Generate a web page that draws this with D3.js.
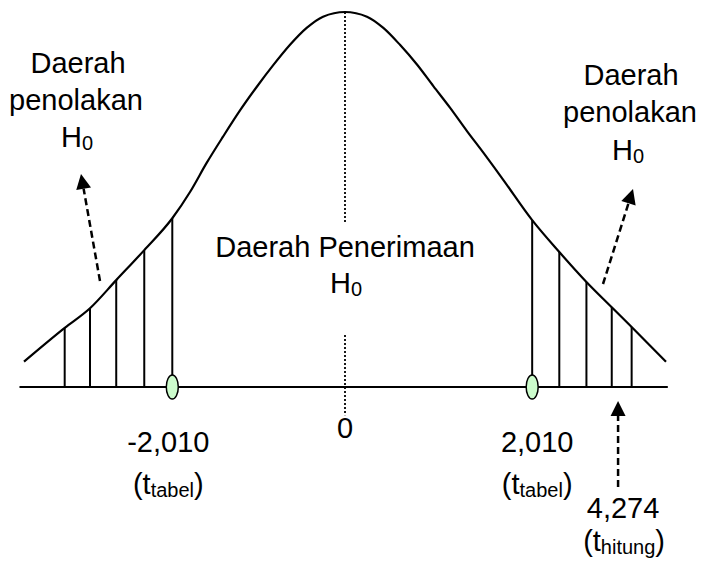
<!DOCTYPE html>
<html>
<head>
<meta charset="utf-8">
<script src="https://cdn.jsdelivr.net/npm/d3@7"></script>
<style>
  body { margin: 0; background: #fff; }
  text { font-family: "Liberation Sans", Arial, sans-serif; fill: #000; }
</style>
</head>
<body>
<svg id="mainSvg" width="702" height="561"></svg>
<script>
// curve (t units, height units)
var curveT = [-3.55,-3.10,-2.82,-2.53,-2.22,-1.91,-1.714,-1.53,-1.349,-1.161,-0.977,-0.796,-0.608,-0.424,-0.243,0,
              0.243,0.424,0.608,0.796,0.977,1.161,1.349,1.53,1.75,2.07,2.37,2.67,2.95,3.17,3.55];
var curveY = [0.027,0.063,0.084,0.114,0.146,0.180,0.208,0.239,0.267,0.295,0.320,0.343,0.365,0.383,0.395,0.400,
              0.395,0.383,0.365,0.344,0.321,0.298,0.273,0.250,0.221,0.178,0.144,0.112,0.085,0.064,0.027];

// hatching in the two rejection regions
var hatchLeft = [-3.10,-2.82,-2.53,-2.22,-1.91];
var hatchRight = [2.07,2.37,2.67,2.95,3.17];

// critical values (markers) and their labels
var critT = [-1.91, 2.07];
var critLabels = ["-2,010", "2,010"];
var hitungT = 3.02;
var hitungLabel = "4,274";

var axisExtent = [-3.6, 3.57];
var centerDots = [[0.400, 0.176], [0.0555, -0.030]];

var svg = d3.select("#mainSvg");
var x = d3.scaleLinear().domain([-3.55, 3.55]).range([24, 666]);
var y = d3.scaleLinear().domain([0, 0.4]).range([387, 12]);

var pts = curveT.map(function (t, i) { return {t: t, h: curveY[i]}; });
function heightAt(t) { return curveY[curveT.indexOf(t)]; }

//axis line
svg.append("line")
    .attr("x1", x(axisExtent[0])).attr("x2", x(axisExtent[1]))
    .attr("y1", y(0)).attr("y2", y(0))
    .style("stroke", "#000").style("stroke-width", 2.2);

//hatch lines, baseline up to the curve
svg.selectAll(".hatch").data(hatchLeft.concat(hatchRight)).enter().append("line")
    .attr("class", "hatch")
    .attr("x1", function (d) { return x(d); }).attr("x2", function (d) { return x(d); })
    .attr("y1", y(0)).attr("y2", function (d) { return y(heightAt(d)); })
    .style("stroke", "#000").style("stroke-width", 2);

//center dotted line
svg.selectAll(".dots").data(centerDots).enter().append("line")
    .attr("class", "dots")
    .attr("x1", x(0)).attr("x2", x(0))
    .attr("y1", function (d) { return y(d[0]); }).attr("y2", function (d) { return y(d[1]); })
    .style("stroke", "#000").style("stroke-width", 1.8).style("stroke-dasharray", "2,2");

//bell curve
var line = d3.line().x(function (d) { return x(d.t); }).y(function (d) { return y(d.h); })
    .curve(d3.curveMonotoneX);
svg.append("path").datum(pts).attr("d", line)
    .style("fill", "none").style("stroke", "#000").style("stroke-width", 2.2);

//markers at the critical values
svg.selectAll(".crit").data(critT).enter().append("ellipse")
    .attr("class", "crit")
    .attr("cx", function (d) { return x(d); }).attr("cy", y(0))
    .attr("rx", 6).attr("ry", 12)
    .style("fill", "#ccfccc").style("stroke", "#000").style("stroke-width", 1.5);

//dashed arrows with a filled head
function arrow(x1, y1, x2, y2) {
    var a = Math.atan2(y2 - y1, x2 - x1), len = 15, w = 7.5;
    var bx = x2 - len * Math.cos(a), by = y2 - len * Math.sin(a);
    svg.append("line").attr("x1", x1).attr("y1", y1).attr("x2", bx).attr("y2", by)
        .style("stroke", "#000").style("stroke-width", 2.5).style("stroke-dasharray", "7,4");
    var px = -Math.sin(a) * w, py = Math.cos(a) * w;
    svg.append("path")
        .attr("d", "M" + x2 + "," + y2 + "L" + (bx + px) + "," + (by + py) + "L" + (bx - px) + "," + (by - py) + "Z")
        .style("fill", "#000");
}
arrow(100, 281, 81, 174);
arrow(603, 284, 633, 189);
arrow(x(hitungT), 487, x(hitungT), 401);

//text with an optional subscript
function label(cx, by, main, sub, tail) {
    var t = svg.append("text").attr("x", cx).attr("y", by)
        .attr("text-anchor", "middle").style("font-size", "29px");
    t.append("tspan").text(main);
    if (sub) {
        t.append("tspan").text(sub).style("font-size", "20px").attr("dy", 3);
        if (tail) t.append("tspan").text(tail).attr("dy", -3);
    }
}
label(78, 73, "Daerah");
label(76, 110, "penolakan");
label(77, 147, "H", "0");
label(631, 85, "Daerah");
label(630, 122, "penolakan");
label(628, 160, "H", "0");
label(345, 257, "Daerah Penerimaan");
label(346, 293, "H", "0");

label(x(0), 438, "0");
label(x(critT[0]) - 4, 452, critLabels[0]);
label(x(critT[0]) - 4, 494, "(t", "tabel", ")");
label(x(critT[1]) + 5, 452, critLabels[1]);
label(x(critT[1]) + 5, 494, "(t", "tabel", ")");
label(x(hitungT) + 5, 518, hitungLabel);
label(x(hitungT) + 6, 551, "(t", "hitung", ")");
</script>
</body>
</html>
